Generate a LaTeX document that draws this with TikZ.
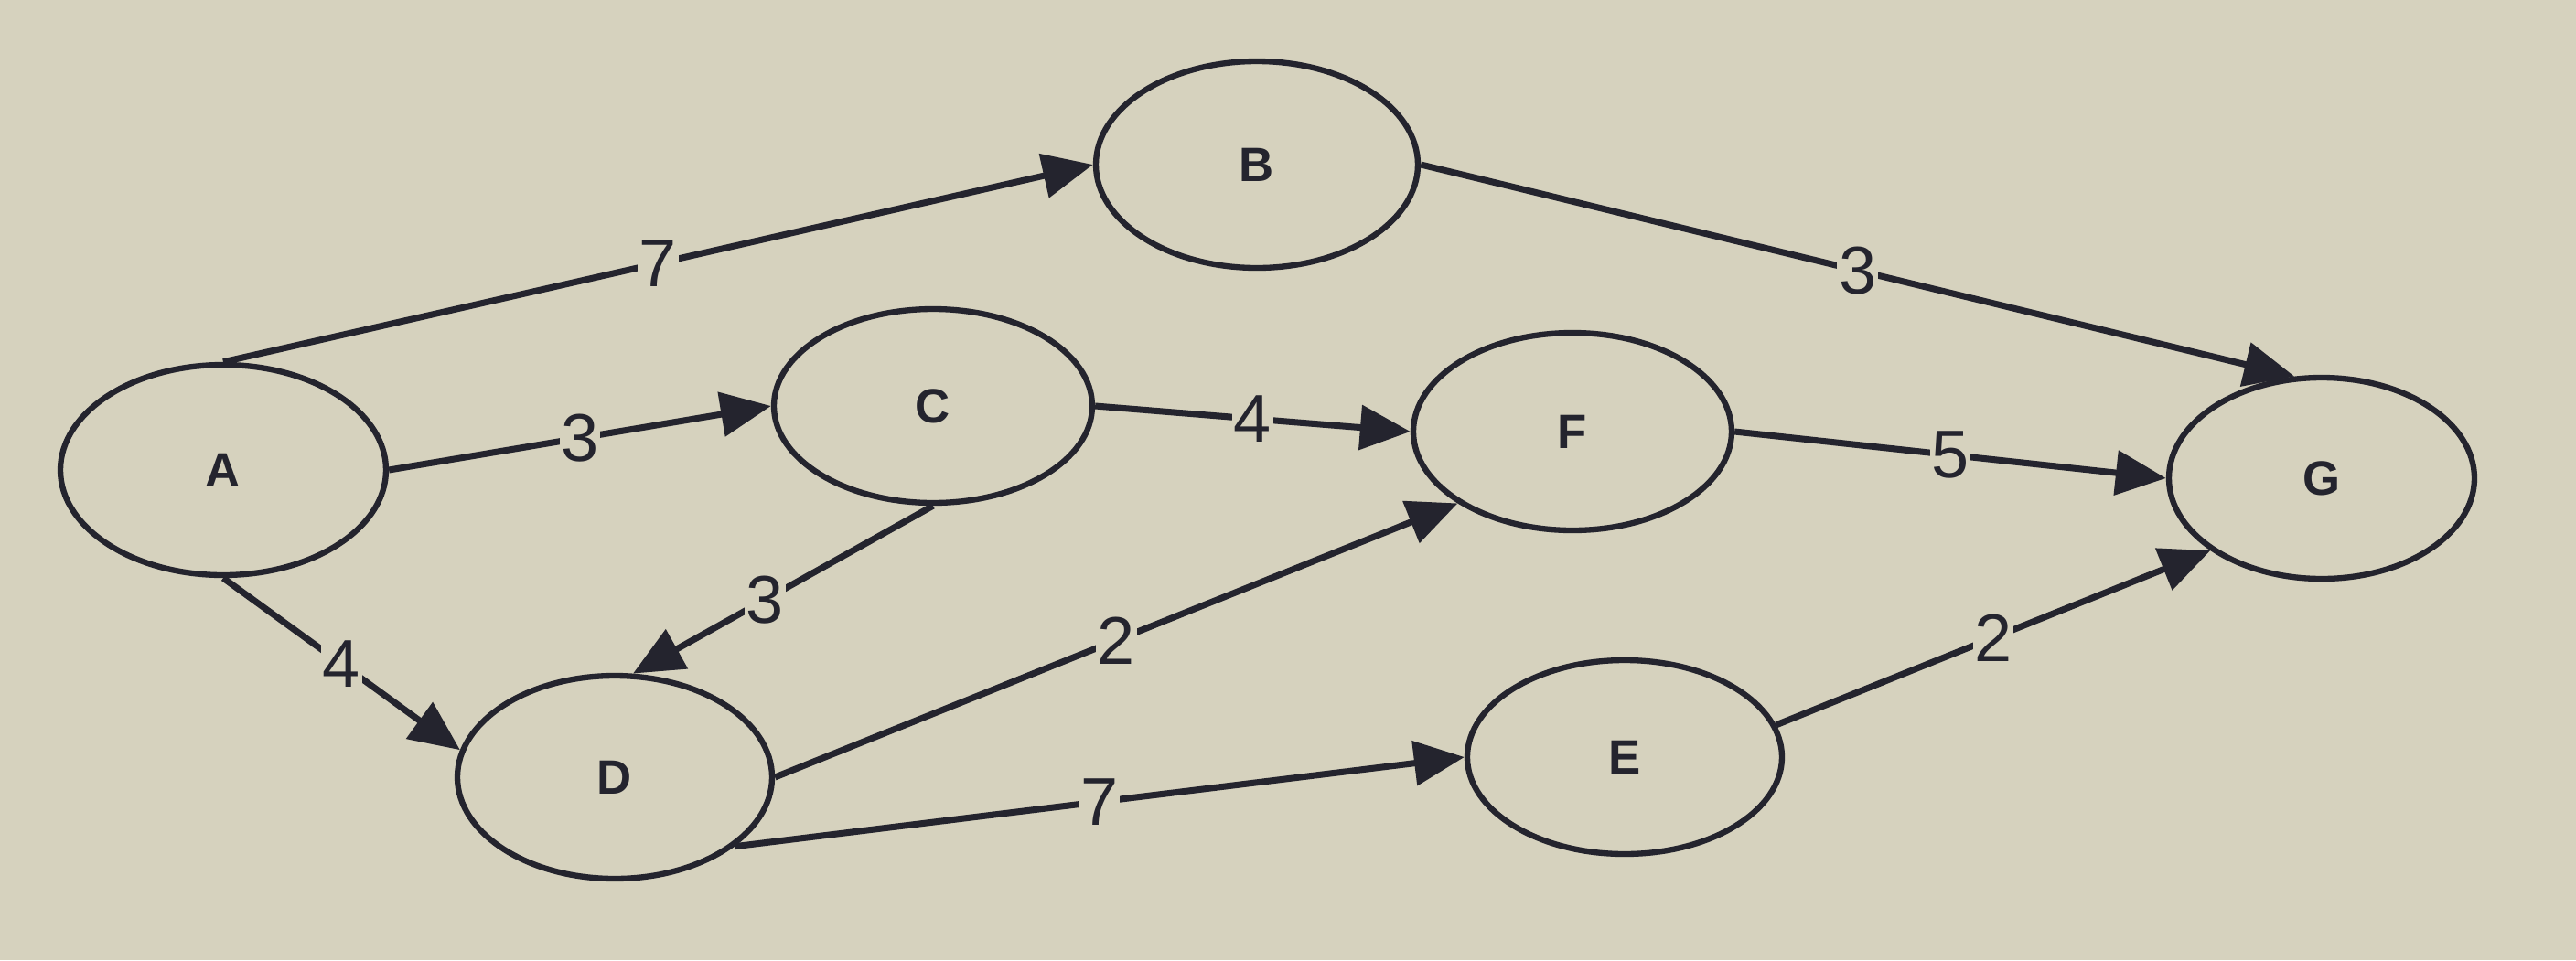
\documentclass[tikz,border=0pt]{standalone}
\usepackage{fontspec}
\setmainfont{Liberation Sans}
\usepackage{tikz}
\usetikzlibrary{positioning, arrows.meta, shapes.geometric}
\definecolor{screen}{RGB}{214,210,190}
\definecolor{ink}{RGB}{36,36,46}

\begin{document}
\begin{tikzpicture}[
  vertex/.style={ellipse, draw=ink, line width=1.8pt, minimum width=3.48cm, minimum height=2.2cm, inner sep=0pt, text=ink, font=\fontsize{15}{15}\selectfont\bfseries},
  arc/.style={draw=ink, line width=2pt, -{Triangle[length=0.55cm, width=0.48cm]}},
  weight/.style={fill=screen, inner sep=0.5pt, text=ink, font=\fontsize{21}{21}\selectfont}
]
% --- Screen ---
\fill[screen] (0,0) rectangle (28.16,-10.5);
\useasboundingbox (0,0) rectangle (28.16,-10.5);

% --- Vertices ---
\node[vertex, minimum width=3.56cm, minimum height=2.3cm] (A) at (2.44,-5.14) {A};
\node[vertex, minimum width=3.52cm, minimum height=2.26cm] (B) at (13.74,-1.80) {B};
\node[vertex, minimum height=2.12cm] (C) at (10.20,-4.44) {C};
\node[vertex, minimum height=2.16cm] (F) at (17.19,-4.72) {F};
\node[vertex, minimum width=3.34cm] (G) at (25.38,-5.23) {G};
\node[vertex, minimum width=3.44cm, minimum height=2.22cm] (D) at (6.72,-8.50) {D};
\node[vertex, minimum width=3.44cm, minimum height=2.12cm] (E) at (17.76,-8.28) {E};

% --- Arcs ---
\draw[arc] (A.north) -- node[weight] {7} (B.west);
\draw[arc] (A.east) -- node[weight] {3} (C.west);
\draw[arc] (A.south) -- node[weight] {4} (D.170);
\draw[arc] (B.east) -- node[weight] {3} (G.105);
\draw[arc] (C.east) -- node[weight] {4} (F.west);
\draw[arc] (C.south) -- node[weight, pos=0.56] {3} (D.80);
\draw[arc] (D.east) -- node[weight] {2} (F.212);
\draw[arc] (D.-30) -- node[weight] {7} (E.west);
\draw[arc] (F.east) -- node[weight] {5} (G.west);
\draw[arc] (E.12) -- node[weight] {2} (G.213);
\end{tikzpicture}
\end{document}
